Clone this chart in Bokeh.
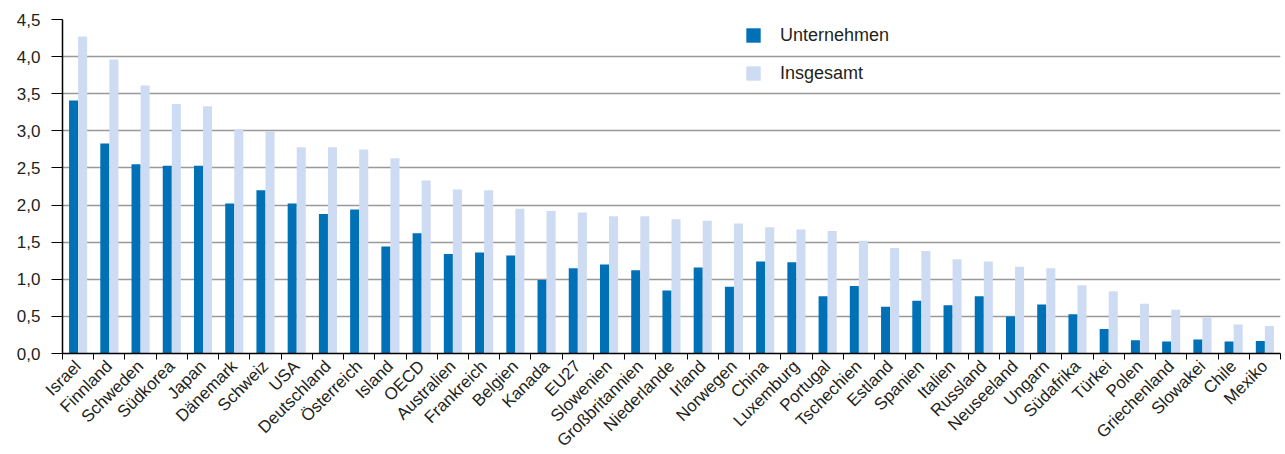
import math
from bokeh.plotting import figure
from bokeh.models import ColumnDataSource, FixedTicker, CustomJSTickFormatter, Legend, LegendItem, Range1d
from bokeh.embed import file_html
from bokeh.resources import INLINE

countries = ["Israel", "Finnland", "Schweden", "Südkorea", "Japan", "Dänemark", "Schweiz", "USA",
             "Deutschland", "Österreich", "Island", "OECD", "Australien", "Frankreich", "Belgien",
             "Kanada", "EU27", "Slowenien", "Großbritannien", "Niederlande", "Irland", "Norwegen",
             "China", "Luxemburg", "Portugal", "Tschechien", "Estland", "Spanien", "Italien",
             "Russland", "Neuseeland", "Ungarn", "Südafrika", "Türkei", "Polen", "Griechenland",
             "Slowakei", "Chile", "Mexiko"]
unternehmen = [3.41, 2.83, 2.55, 2.53, 2.53, 2.02, 2.20, 2.02, 1.88, 1.94, 1.44, 1.62, 1.34, 1.36,
               1.32, 0.99, 1.15, 1.20, 1.12, 0.85, 1.16, 0.90, 1.24, 1.23, 0.77, 0.91, 0.63, 0.71,
               0.65, 0.77, 0.50, 0.66, 0.53, 0.33, 0.18, 0.16, 0.19, 0.16, 0.17]
insgesamt = [4.27, 3.96, 3.61, 3.36, 3.33, 3.02, 2.99, 2.78, 2.78, 2.75, 2.63, 2.33, 2.21, 2.20,
             1.95, 1.92, 1.90, 1.85, 1.85, 1.81, 1.79, 1.75, 1.70, 1.67, 1.65, 1.52, 1.42, 1.38,
             1.27, 1.24, 1.17, 1.15, 0.92, 0.84, 0.67, 0.59, 0.48, 0.39, 0.37]
y_ticks = [0, 0.5, 1.0, 1.5, 2.0, 2.5, 3.0, 3.5, 4.0, 4.5]

DARK = "#0071b6"
LIGHT = "#cedcf3"
FONT = "Liberation Sans"
TXT = "#231f20"

n = len(countries)
idx = list(range(n))
src = ColumnDataSource(dict(
    x1=[i + 0.5 - 0.145 for i in idx],
    x2=[i + 0.5 + 0.145 for i in idx],
    u=unternehmen, g=insgesamt))

p = figure(output_backend="svg", toolbar_location=None,
           frame_width=1218, frame_height=334,
           min_border_left=62, min_border_right=3, min_border_top=19, min_border_bottom=90,
           x_range=Range1d(0, n), y_range=Range1d(0, 4.5))
p.outline_line_color = None
p.background_fill_color = "white"

r1 = p.vbar(x="x1", top="u", width=0.29, source=src, fill_color=DARK, line_color=None)
r2 = p.vbar(x="x2", top="g", width=0.29, source=src, fill_color=LIGHT, line_color=None)

# y axis
yax = p.yaxis[0]
yax.ticker = FixedTicker(ticks=y_ticks, minor_ticks=[])
yax.formatter = CustomJSTickFormatter(code="return tick.toFixed(1).replace('.', ',');")
yax.major_tick_out = 11
yax.major_tick_in = 0
yax.major_tick_line_color = "black"
yax.axis_line_color = "black"
yax.axis_line_width = 1.5
yax.major_label_standoff = 11
yax.major_label_text_font = FONT
yax.major_label_text_font_size = "17px"
yax.major_label_text_color = TXT

# x axis
xax = p.xaxis[0]
xax.ticker = FixedTicker(ticks=[i + 0.5 for i in idx], minor_ticks=list(range(n + 1)))
xax.formatter = CustomJSTickFormatter(args=dict(labels=countries),
                                      code="return labels[Math.floor(tick)];")
xax.major_tick_out = 0
xax.major_tick_in = 0
xax.minor_tick_out = 6
xax.minor_tick_in = 0
xax.minor_tick_line_color = "black"
xax.axis_line_color = "black"
xax.axis_line_width = 1.5
xax.major_label_orientation = math.pi / 4
xax.major_label_standoff = 4
xax.major_label_text_font = FONT
xax.major_label_text_font_size = "17px"
xax.major_label_text_color = TXT

p.xgrid.grid_line_color = None
p.ygrid.ticker = FixedTicker(ticks=y_ticks)
p.ygrid.grid_line_color = "#999999"
p.ygrid.grid_line_width = 1.5

legend = Legend(items=[LegendItem(label="Unternehmen", renderers=[r1]),
                       LegendItem(label="Insgesamt", renderers=[r2])],
                location=(682, 269))
legend.padding = 0
legend.margin = 0
legend.spacing = 16
legend.glyph_width = 18
legend.glyph_height = 18
legend.label_height = 22
legend.label_standoff = 18
legend.border_line_color = None
legend.background_fill_alpha = 0
legend.label_text_font = FONT
legend.label_text_font_size = "18px"
legend.label_text_color = TXT
p.add_layout(legend)

open("out.html", "w").write(file_html(p, INLINE))
